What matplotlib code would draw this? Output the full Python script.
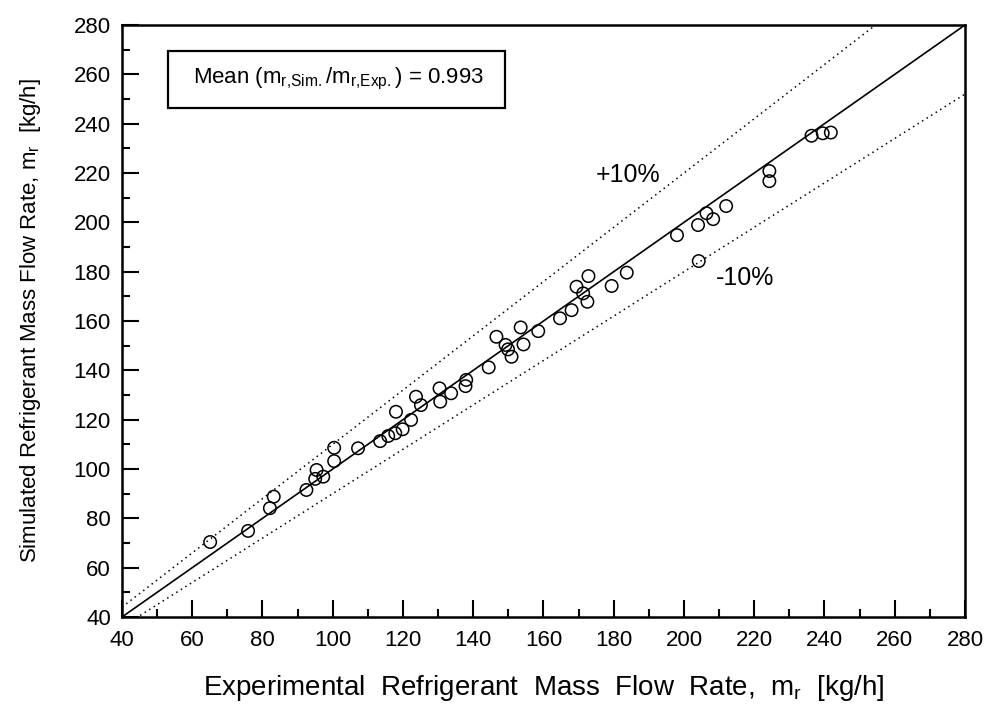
import matplotlib
matplotlib.use("Agg")
import matplotlib.pyplot as plt
from matplotlib.ticker import MultipleLocator
from matplotlib.patches import Rectangle

plt.rcParams['font.family'] = ['Liberation Sans', 'DejaVu Sans']
plt.rcParams['mathtext.fontset'] = 'custom'
plt.rcParams['mathtext.rm'] = 'Liberation Sans'

exp_flow = [65.1, 75.9, 82.1, 83.2, 92.5, 95.0, 95.4, 97.3, 100.4, 100.4,
            107.2, 113.5, 115.8, 118.0, 117.8, 119.9, 122.3, 123.7, 125.1,
            130.4, 130.6, 133.7, 138.0, 137.8, 144.4, 146.6, 149.2, 149.9,
            150.9, 153.5, 154.3, 158.5, 164.7, 168.0, 169.4, 171.3, 172.5,
            172.8, 179.4, 183.7, 198.0, 204.0, 204.2, 206.4, 208.3, 212.0,
            224.3, 224.3, 236.3, 239.5, 241.8]
sim_flow = [70.4, 74.9, 84.1, 88.8, 91.5, 96.0, 99.6, 96.9, 103.2, 108.6,
            108.4, 111.3, 113.4, 123.2, 114.5, 116.1, 119.9, 129.3, 125.9,
            132.7, 127.3, 130.7, 136.1, 133.6, 141.2, 153.6, 150.3, 148.5,
            145.5, 157.4, 150.5, 155.9, 161.1, 164.4, 173.9, 171.2, 167.8,
            178.2, 174.2, 179.6, 194.8, 198.9, 184.3, 203.7, 201.3, 206.6,
            220.8, 216.7, 235.1, 236.1, 236.4]
ref_line = [40, 280]
upper_factor = 1.1
lower_factor = 0.9
mean_ratio = 0.993

fig = plt.figure(figsize=(9.87, 7.04), dpi=100)
ax = fig.add_axes([122 / 987, 1 - 617 / 704, (965 - 122) / 987, (617 - 25) / 704])

ax.plot(ref_line, ref_line, color='black', lw=1.2)
ax.plot(ref_line, [v * upper_factor for v in ref_line], color='black', lw=1.1,
        linestyle=(0, (1, 2.5)))
ax.plot(ref_line, [v * lower_factor for v in ref_line], color='black', lw=1.1,
        linestyle=(0, (1, 2.5)))
ax.scatter(exp_flow, sim_flow, s=80, facecolors='none', edgecolors='black',
           linewidths=1.1, zorder=3)

ax.set_xlim(40, 280)
ax.set_ylim(40, 280)
ax.xaxis.set_major_locator(MultipleLocator(20))
ax.yaxis.set_major_locator(MultipleLocator(20))
ax.xaxis.set_minor_locator(MultipleLocator(10))
ax.yaxis.set_minor_locator(MultipleLocator(10))
ax.tick_params(which='both', direction='in', top=False, right=False,
               labelsize=16, width=1.5, colors='black')
ax.tick_params(which='major', length=12)
ax.tick_params(which='minor', length=6)
ax.tick_params(axis='x', which='major', pad=9)
ax.tick_params(axis='y', which='major', pad=8)
for sp in ax.spines.values():
    sp.set_linewidth(1.8)

ax.set_xlabel(r'Experimental  Refrigerant  Mass  Flow  Rate,  m$_{\mathrm{r}}$  [kg/h]',
              fontsize=20, labelpad=16)
ax.set_ylabel(r'Simulated Refrigerant Mass Flow Rate, m$_{\mathrm{r}}$  [kg/h]',
              fontsize=16, labelpad=22)

ax.text(184, 219, '+10%', fontsize=18, ha='center', va='center')
ax.text(217.5, 177.4, '-10%', fontsize=18, ha='center', va='center')

ax.add_patch(Rectangle((53.1, 246.3), 148.9 - 53.1, 269.4 - 246.3,
                       facecolor='white', edgecolor='black', lw=1.6, zorder=4))
ax.text(101.5, 258.0,
        r'Mean (m$_{\mathrm{r{,}Sim{.}}}$/m$_{\mathrm{r{,}Exp{.}}}$) = '
        + f'{mean_ratio:.3f}',
        fontsize=16, ha='center', va='center', zorder=5)

fig.savefig('out.png', dpi=100)
